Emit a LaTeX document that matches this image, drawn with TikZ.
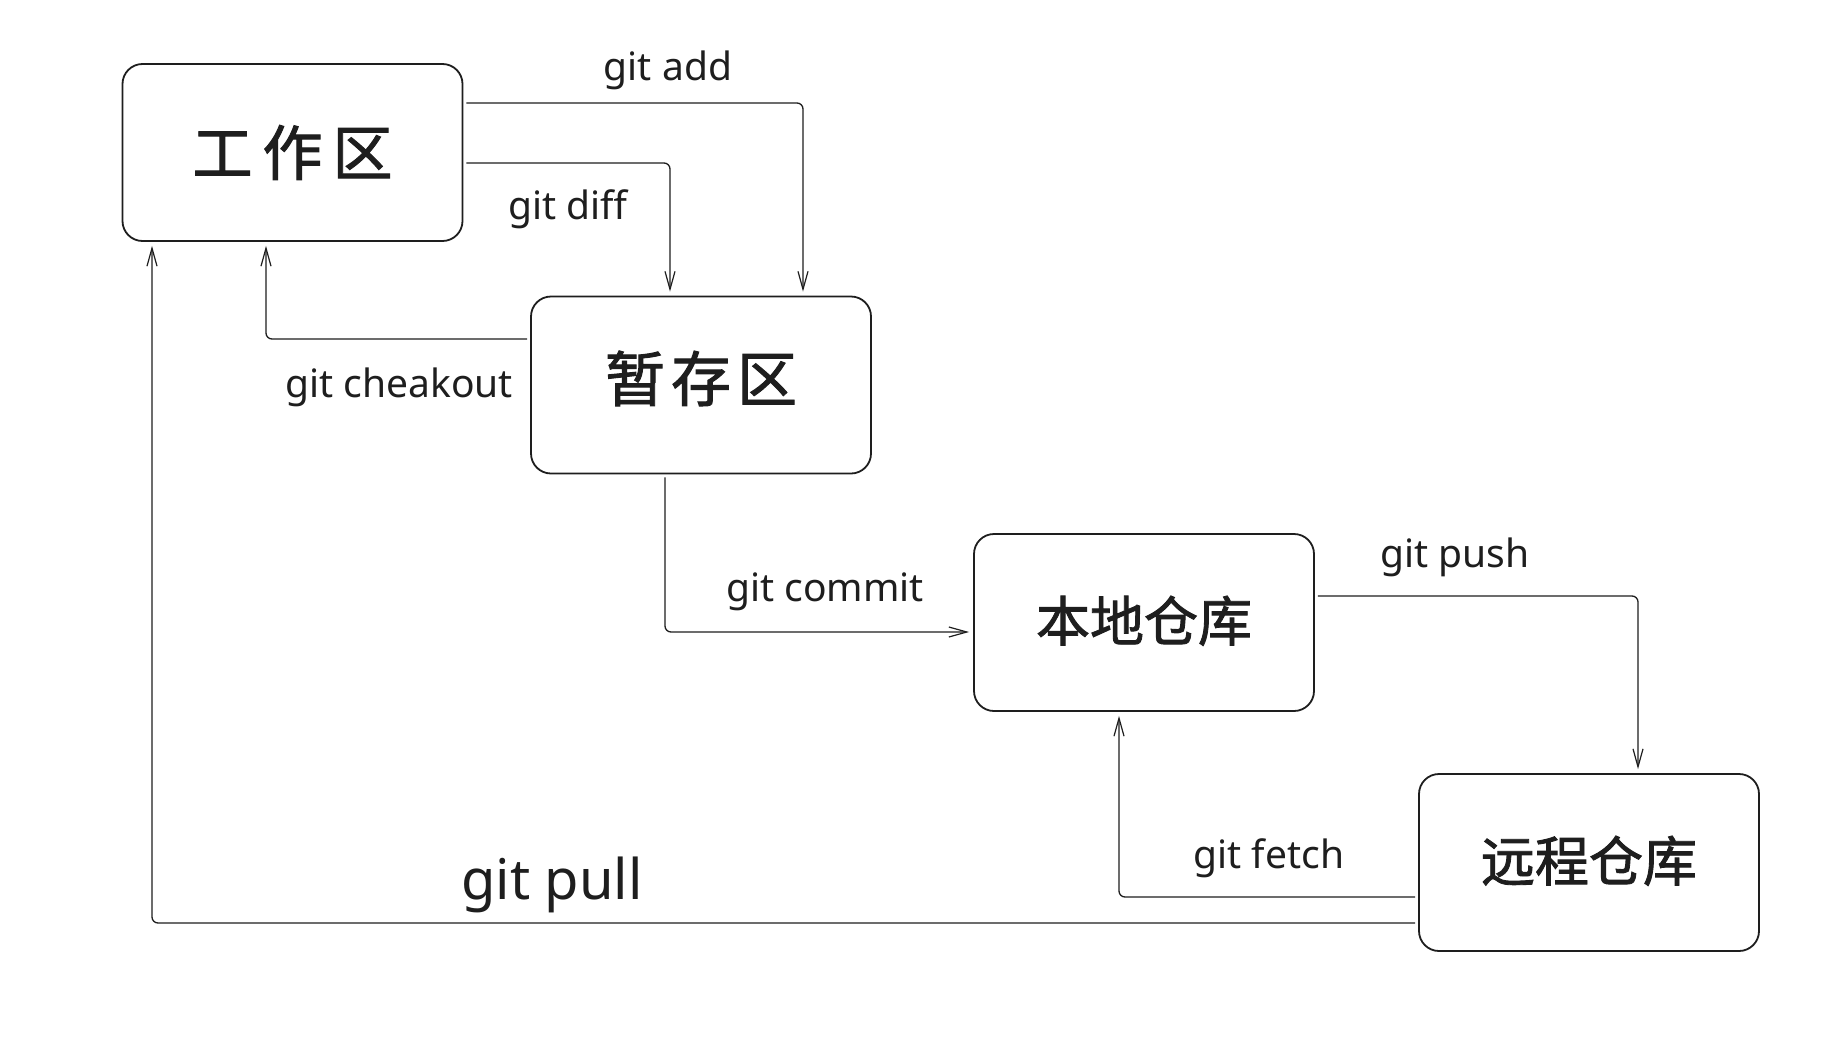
\documentclass[tikz,border=0pt]{standalone}
\usepackage{fontspec}
\setmainfont{Noto Sans}
\newfontfamily\cjk[FakeBold=1.6]{Noto Sans CJK SC}
\usetikzlibrary{arrows.meta}
\definecolor{ink}{HTML}{1E1E1E}
\begin{document}
\begin{tikzpicture}[x=1pt,y=-1pt,
  box/.style={draw=ink,line width=1.8pt,rounded corners=20pt,minimum width=340pt,minimum height=177pt,inner sep=0pt,text=ink},
  big/.style={font=\cjk\fontsize{60}{64}\selectfont},
  mid/.style={font=\cjk\fontsize{54}{58}\selectfont},
  conn/.style={draw=ink,line width=1.3pt,rounded corners=6pt,-{Straight Barb[length=18pt,width=10pt,line width=1.2pt]},shorten >=4pt,shorten <=3pt},
  lbl/.style={text=ink,inner sep=0pt,font=\fontsize{39}{43}\selectfont}]
\fill[white] (0,0) rectangle (1839,1039);
\useasboundingbox (0,0) rectangle (1839,1039);

\node[box,big] (ws) at (292.5,152.5) {工\kern10pt 作\kern10pt 区};
\node[box,big] (st) at (701,385) {\raisebox{18pt}{暂\kern6pt 存\kern6pt 区}};
\node[box,mid] (lo) at (1144,622.5) {\raisebox{8pt}{本地仓库}};
\node[box,mid] (re) at (1589,862.5) {\raisebox{8pt}{远程仓库}};

\draw[conn] ([yshift=49.5pt]ws.east) -| ([xshift=102pt]st.north);
\draw[conn] ([yshift=-10.5pt]ws.east) -| ([xshift=-31pt]st.north);
\draw[conn] ([yshift=46pt]st.west) -| ([xshift=-26.5pt]ws.south);
\draw[conn] ([xshift=-36pt]st.south) |- ([yshift=-9.5pt]lo.west);
\draw[conn] ([yshift=26.5pt]lo.east) -| ([xshift=49pt]re.north);
\draw[conn] ([yshift=-34.5pt]re.west) -| ([xshift=-25pt]lo.south);
\draw[conn] ([yshift=-60.5pt]re.west) -| ([xshift=-140.5pt]ws.south);

\node[lbl] (ladd) at (668,70) {git add};
\node[lbl] (ldiff) at (568,209) {git diff};
\node[lbl] (lco) at (399,387) {git cheakout};
\node[lbl] (lcm) at (825,592) {git commit};
\node[lbl] (lpush) at (1455,557) {git push};
\node[lbl] (lfetch) at (1269,858) {git fetch};
\node[lbl,font=\fontsize{56}{60}\selectfont] (lpull) at (552,885) {git pull};
\end{tikzpicture}
\end{document}
